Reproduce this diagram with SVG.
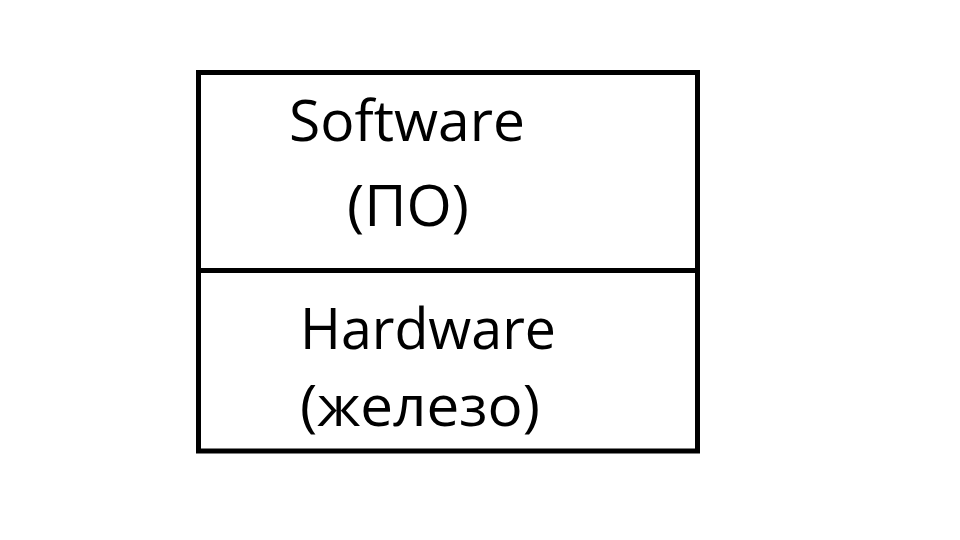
<svg xmlns="http://www.w3.org/2000/svg" width="960" height="540" viewBox="0 0 960 540">
<style>
.t{font-family:"Open Sans","Noto Sans","Liberation Sans",sans-serif;font-size:57px;fill:#000}
.b{fill:none;stroke:#000;stroke-width:5}
</style>
<rect width="960" height="540" fill="#fff"/>
<g id="software">
<rect class="b" x="198.5" y="72.5" width="499" height="198"/>
<text class="t" x="289" y="141" textLength="236" lengthAdjust="spacingAndGlyphs">Software</text>
<text class="t" x="347" y="226" textLength="122" lengthAdjust="spacingAndGlyphs">(ПО)</text>
</g>
<g id="hardware">
<rect class="b" x="198.5" y="270.5" width="499" height="180.5"/>
<text class="t" x="300" y="349" textLength="256" lengthAdjust="spacingAndGlyphs">Hardware</text>
<text class="t" x="300" y="426" textLength="240" lengthAdjust="spacingAndGlyphs">(железо)</text>
</g>
<g id="connectors"></g>
</svg>
